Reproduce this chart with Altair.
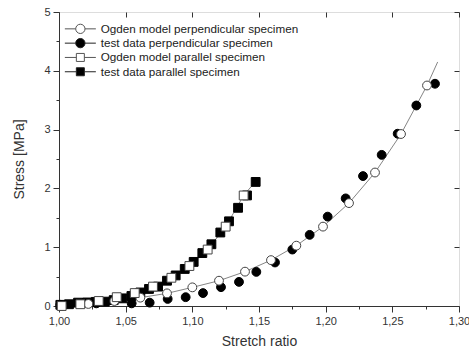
import altair as alt
import pandas as pd

# ---------------- data ----------------
series_names = [
    "Ogden model perpendicular specimen",
    "test data perpendicular specimen",
    "Ogden model parallel specimen",
    "test data parallel specimen",
]

# test data perpendicular (filled circles)
test_perp_x = [1.001, 1.028, 1.0545, 1.068, 1.0815, 1.095, 1.108, 1.1215, 1.135, 1.148,
               1.162, 1.175, 1.188, 1.2015, 1.215, 1.228, 1.242, 1.254, 1.268, 1.282]
test_perp_y = [0.02, 0.045, 0.045, 0.057, 0.12, 0.15, 0.22, 0.32, 0.41, 0.58,
               0.74, 0.96, 1.21, 1.52, 1.83, 2.21, 2.57, 2.93, 3.41, 3.78]

# test data parallel (filled squares)
test_par_x = [1.001, 1.0075, 1.0143, 1.021, 1.0275, 1.0343, 1.041, 1.0475, 1.0543, 1.061,
              1.0675, 1.0743, 1.081, 1.0875, 1.0943, 1.101, 1.1075, 1.1143, 1.121, 1.1275,
              1.1343, 1.141, 1.1475]
test_par_y = [0.02, 0.03, 0.057, 0.06, 0.07, 0.074, 0.1, 0.13, 0.17, 0.23,
              0.29, 0.33, 0.43, 0.52, 0.63, 0.75, 0.90, 1.05, 1.25, 1.44,
              1.67, 1.88, 2.11]

# Ogden model perpendicular (open circles)
model_perp_x = [1.002, 1.022, 1.0415, 1.061, 1.081, 1.100, 1.120, 1.1395, 1.159, 1.178,
                1.198, 1.2175, 1.237, 1.2565, 1.276]
model_perp_y = [0.0, 0.035, 0.085, 0.142, 0.215, 0.317, 0.43, 0.584, 0.78, 1.026,
                1.35, 1.75, 2.27, 2.925, 3.75]
# model curve end beyond the last symbol
model_perp_end_x = [1.284]
model_perp_end_y = [4.15]

# Ogden model parallel (open squares)
model_par_x = [1.002, 1.016, 1.0298, 1.0433, 1.0568, 1.0705, 1.0843, 1.0978, 1.1115, 1.125, 1.1385]
model_par_y = [0.0, 0.03, 0.085, 0.15, 0.22, 0.33, 0.48, 0.68, 0.96, 1.35, 1.88]
model_par_end_x = [1.146]
model_par_end_y = [2.08]

x_ticks = [1.00, 1.05, 1.10, 1.15, 1.20, 1.25, 1.30]
x_minor = [1.025, 1.075, 1.125, 1.175, 1.225, 1.275]
y_ticks = [0, 1, 2, 3, 4, 5]
y_minor = [0.5, 1.5, 2.5, 3.5, 4.5]

# ---------------- tables ----------------
rows = []
for xs, ys, name in [
    (test_perp_x, test_perp_y, series_names[1]),
    (test_par_x, test_par_y, series_names[3]),
    (model_perp_x, model_perp_y, series_names[0]),
    (model_par_x, model_par_y, series_names[2]),
]:
    for a, b in zip(xs, ys):
        rows.append({"x": a, "y": b, "series": name, "order": len(rows)})
pts = pd.DataFrame(rows)

line_rows = []
for xs, ys, name in [
    (model_perp_x + model_perp_end_x, model_perp_y + model_perp_end_y, "perp"),
    (model_par_x + model_par_end_x, model_par_y + model_par_end_y, "par"),
]:
    for i, (a, b) in enumerate(zip(xs, ys)):
        line_rows.append({"x": a, "y": b, "curve": name, "i": i})
lines = pd.DataFrame(line_rows)

FONT = "Liberation Sans"
AX = "#333333"

xscale = alt.Scale(domain=[1.0, 1.3], nice=False, zero=False)
yscale = alt.Scale(domain=[0, 5], nice=False, zero=False)

label_expr = "replace(format(datum.value, '.2f'), '.', ',')"

x_main = alt.X("x:Q", scale=xscale, axis=alt.Axis(
    orient="bottom", values=x_ticks, labelExpr=label_expr, tickSize=6, labelPadding=3,
    labelFontSize=11, labelColor=AX, labelFont=FONT, labelFlush=False, labelOverlap=False,
    domain=True, domainColor=AX, tickColor=AX, grid=False,
    title="Stretch ratio", titleFontSize=14, titleFontWeight="normal", titleColor=AX,
    titleFont=FONT, titlePadding=8))
y_main = alt.Y("y:Q", scale=yscale, axis=alt.Axis(
    orient="left", values=y_ticks, format="d", tickSize=6, labelPadding=3,
    labelFontSize=11, labelColor=AX, labelFont=FONT, labelFlush=False,
    domain=True, domainColor=AX, tickColor=AX, grid=False,
    title="Stress [MPa]", titleFontSize=14, titleFontWeight="normal", titleColor=AX,
    titleFont=FONT, titlePadding=17))

line_layer = alt.Chart(lines).mark_line(color="#666666", strokeWidth=0.8).encode(
    x=alt.X("x:Q", scale=xscale, axis=None),
    y=alt.Y("y:Q", scale=yscale, axis=None),
    detail="curve:N",
    order="i:Q",
)

shape_range = ["circle", "circle", "square", "square"]
fill_range = ["#ffffff", "#000000", "#ffffff", "#000000"]
stroke_range = ["#444444", "#000000", "#444444", "#000000"]

point_layer = alt.Chart(pts).mark_point(filled=False, size=78, strokeWidth=1, opacity=1).encode(
    x=x_main,
    y=y_main,
    shape=alt.Shape("series:N", scale=alt.Scale(domain=series_names, range=shape_range), legend=None),
    fill=alt.Fill("series:N", scale=alt.Scale(domain=series_names, range=fill_range), legend=None),
    stroke=alt.Stroke("series:N", scale=alt.Scale(domain=series_names, range=stroke_range), legend=None),
    order="order:Q",
)

# legend glyphs: symbol with a short line through it (unit = 5 px at size 100)
circ_path = "M-3.1,0H-0.93M0.93,0H3.1M-0.93,0A0.93,0.93 0 1,1 0.93,0A0.93,0.93 0 1,1 -0.93,0Z"
sq_path = "M-3.1,0H-0.8M0.8,0H3.1M-0.8,-0.8H0.8V0.8H-0.8Z"
legend_shapes = [circ_path, circ_path, sq_path, sq_path]
legend_strokes = ["#555555", "#222222", "#555555", "#222222"]

lg = alt.Legend(orient="none", legendX=15.5, legendY=11, title=None, padding=0,
                symbolSize=100, symbolStrokeWidth=1, symbolOpacity=1,
                labelFontSize=11.7, labelFont=FONT, labelColor="#222222", labelOffset=14.5,
                rowPadding=0.3, labelLimit=400)

legend_layer = alt.Chart(pts).mark_point(filled=False, opacity=0).encode(
    x=alt.X("x:Q", scale=xscale, axis=None),
    y=alt.Y("y:Q", scale=yscale, axis=None),
    shape=alt.Shape("series:N", scale=alt.Scale(domain=series_names, range=legend_shapes), legend=lg),
    fill=alt.Fill("series:N", scale=alt.Scale(domain=series_names, range=fill_range), legend=lg),
    stroke=alt.Stroke("series:N", scale=alt.Scale(domain=series_names, range=legend_strokes), legend=lg),
)

def axis_layer(xaxis, yaxis):
    return alt.Chart(pts).mark_point(opacity=0).encode(
        x=alt.X("x:Q", scale=xscale, axis=xaxis),
        y=alt.Y("y:Q", scale=yscale, axis=yaxis),
    )

common = dict(labels=False, domain=False, grid=False, title=None, tickColor=AX)
x_minor_layer = axis_layer(alt.Axis(orient="bottom", values=x_minor, tickSize=3, **common), None)
x_top_layer = axis_layer(alt.Axis(orient="top", values=x_ticks, tickSize=5, offset=-5, **common), None)
y_minor_layer = axis_layer(None, alt.Axis(orient="left", values=y_minor, tickSize=3, **common))
y_right_layer = axis_layer(None, alt.Axis(orient="right", values=y_ticks, tickSize=5, offset=-5, **common))

chart = alt.layer(
    line_layer, point_layer, legend_layer,
    x_minor_layer, x_top_layer, y_minor_layer, y_right_layer,
).resolve_scale(
    shape="independent", fill="independent", stroke="independent"
).resolve_axis(
    x="independent", y="independent"
).properties(
    width=400, height=294,
    autosize=alt.AutoSizeParams(type="none"),
    padding={"left": 59, "top": 12, "right": 10, "bottom": 48},
    background="white",
).configure_view(
    stroke=AX, strokeWidth=1
).configure(font=FONT)

chart.save("out.html", embed_options={"renderer": "svg", "actions": False})
